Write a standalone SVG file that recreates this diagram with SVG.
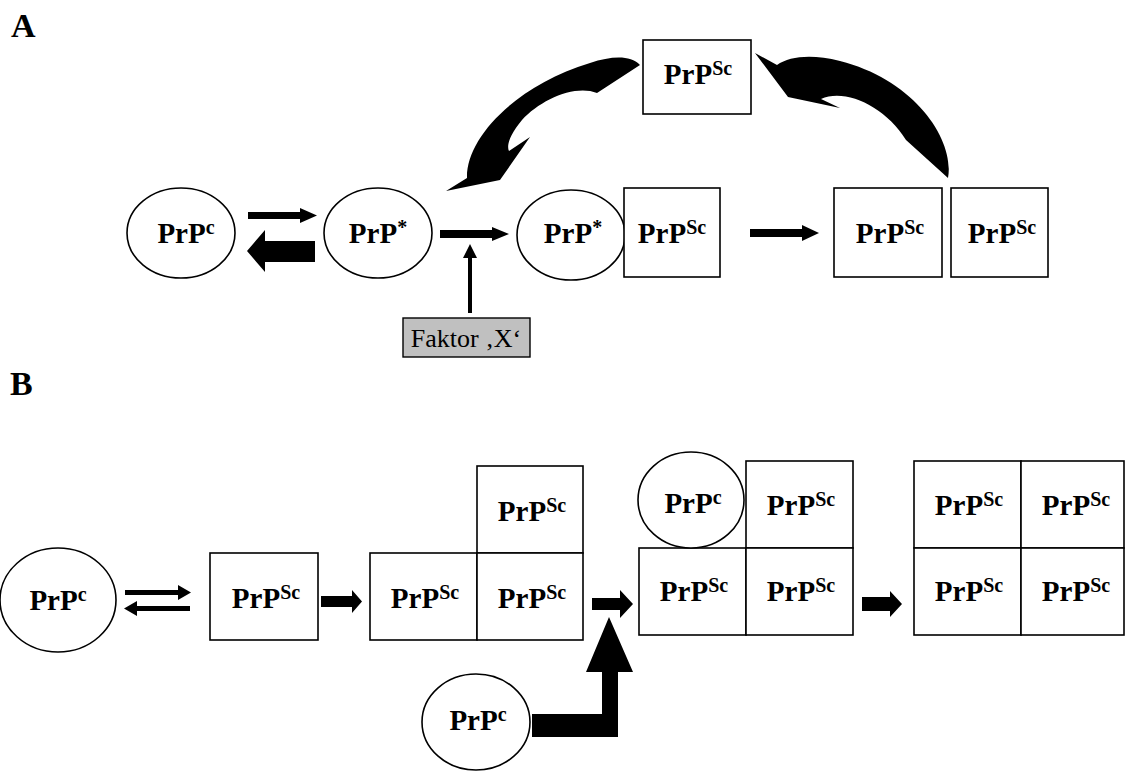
<svg xmlns="http://www.w3.org/2000/svg" width="1125" height="772" viewBox="0 0 1125 772">
  <style>
    .node { fill: #ffffff; stroke: #000000; stroke-width: 1.6; }
    .lbl { font-family: "Liberation Serif", "Times New Roman", serif; font-weight: bold; font-size: 29px; fill: #000; text-anchor: middle; }
    .sup { font-size: 20px; }
    .head { font-family: "Liberation Serif", "Times New Roman", serif; font-weight: bold; font-size: 34px; fill: #000; }
    .fx { font-family: "Liberation Serif", "Times New Roman", serif; font-size: 26px; fill: #000; text-anchor: middle; }
    .arrow { fill: #000000; stroke: none; }
  </style>

  <rect width="1125" height="772" fill="#ffffff"/>

  <!-- panel letters -->
  <text class="head" x="11" y="37">A</text>
  <text class="head" x="10" y="395">B</text>

  <!-- ===== Panel A ===== -->
  <g id="a-prpc">
    <ellipse class="node" cx="181" cy="233" rx="54" ry="45"/>
    <text class="lbl" x="186" y="243">PrP<tspan class="sup" dy="-9">c</tspan></text>
  </g>
  <g id="a-prpstar1">
    <ellipse class="node" cx="378" cy="233" rx="54" ry="45"/>
    <text class="lbl" x="378" y="243">PrP<tspan class="sup" dy="-9">*</tspan></text>
  </g>
  <g id="a-prpstar2">
    <ellipse class="node" cx="571" cy="235" rx="54" ry="45"/>
    <text class="lbl" x="573" y="243">PrP<tspan class="sup" dy="-9">*</tspan></text>
  </g>
  <g id="a-sc1">
    <rect class="node" x="624" y="188" width="96" height="89"/>
    <text class="lbl" x="672" y="243">PrP<tspan class="sup" dy="-9">Sc</tspan></text>
  </g>
  <g id="a-sc2">
    <rect class="node" x="834" y="188" width="108" height="89"/>
    <text class="lbl" x="890" y="243">PrP<tspan class="sup" dy="-9">Sc</tspan></text>
  </g>
  <g id="a-sc3">
    <rect class="node" x="951" y="188" width="97" height="89"/>
    <text class="lbl" x="1002" y="243">PrP<tspan class="sup" dy="-9">Sc</tspan></text>
  </g>
  <g id="a-sc-top">
    <rect class="node" x="643" y="40" width="108" height="74"/>
    <text class="lbl" x="698" y="84">PrP<tspan class="sup" dy="-9">Sc</tspan></text>
  </g>
  <g id="a-faktor">
    <rect x="403" y="318" width="127" height="39" fill="#c0c0c0" stroke="#000" stroke-width="1.4"/>
    <text class="fx" x="466" y="347">Faktor ‚X‘</text>
  </g>

  <!-- ===== Panel B ===== -->
  <g id="b-prpc">
    <ellipse class="node" cx="58" cy="600" rx="58" ry="52"/>
    <text class="lbl" x="58" y="610">PrP<tspan class="sup" dy="-9">c</tspan></text>
  </g>
  <g id="b-sc1">
    <rect class="node" x="210" y="553" width="108" height="87"/>
    <text class="lbl" x="266" y="608">PrP<tspan class="sup" dy="-9">Sc</tspan></text>
  </g>
  <g id="b-trimer">
    <rect class="node" x="477" y="466" width="106" height="87"/>
    <rect class="node" x="370" y="553" width="107" height="87"/>
    <rect class="node" x="477" y="553" width="106" height="87"/>
    <text class="lbl" x="532" y="521">PrP<tspan class="sup" dy="-9">Sc</tspan></text>
    <text class="lbl" x="425" y="608">PrP<tspan class="sup" dy="-9">Sc</tspan></text>
    <text class="lbl" x="532" y="608">PrP<tspan class="sup" dy="-9">Sc</tspan></text>
  </g>
  <g id="b-prpc-low">
    <ellipse class="node" cx="476" cy="722" rx="54" ry="48"/>
    <text class="lbl" x="478" y="730">PrP<tspan class="sup" dy="-9">c</tspan></text>
  </g>
  <g id="b-tetramer-forming">
    <rect class="node" x="746" y="461" width="107" height="87"/>
    <rect class="node" x="639" y="548" width="107" height="87"/>
    <rect class="node" x="746" y="548" width="107" height="87"/>
    <ellipse class="node" cx="691" cy="500" rx="53" ry="48"/>
    <text class="lbl" x="693" y="513">PrP<tspan class="sup" dy="-9">c</tspan></text>
    <text class="lbl" x="801" y="515">PrP<tspan class="sup" dy="-9">Sc</tspan></text>
    <text class="lbl" x="694" y="601">PrP<tspan class="sup" dy="-9">Sc</tspan></text>
    <text class="lbl" x="801" y="601">PrP<tspan class="sup" dy="-9">Sc</tspan></text>
  </g>
  <g id="b-tetramer">
    <rect class="node" x="914" y="461" width="107" height="87"/>
    <rect class="node" x="1021" y="461" width="103" height="87"/>
    <rect class="node" x="914" y="548" width="107" height="87"/>
    <rect class="node" x="1021" y="548" width="103" height="87"/>
    <text class="lbl" x="969" y="515">PrP<tspan class="sup" dy="-9">Sc</tspan></text>
    <text class="lbl" x="1076" y="515">PrP<tspan class="sup" dy="-9">Sc</tspan></text>
    <text class="lbl" x="969" y="601">PrP<tspan class="sup" dy="-9">Sc</tspan></text>
    <text class="lbl" x="1076" y="601">PrP<tspan class="sup" dy="-9">Sc</tspan></text>
  </g>

  <!-- ===== connectors ===== -->
  <g id="connectors" class="arrow">
    <!-- A: PrPc <-> PrP* equilibrium -->
    <polygon points="248,212 300,212 300,208 317,215.5 300,223 300,219 248,219"/>
    <polygon points="315,241 265,241 265,230 247,251 265,272 265,262 315,262"/>
    <!-- A: PrP* -> PrP*·PrPSc -->
    <polygon points="440,230 492,230 492,227 509,234 492,241 492,238 440,238"/>
    <!-- A: Faktor X -> reaction -->
    <polygon points="468,313 468,258 463,258 470,244 477,258 472,258 472,313"/>
    <!-- A: PrPSc -> dimer -->
    <polygon points="750,229 802,229 802,225 819,233 802,241 802,237 750,237"/>
    <!-- A: recruitment loop (top box to PrP*) -->
    <path d="M446,191 L467,178 C466,138 515,86 590,63 C612,56 630,55 640,65 L597,93 C575,84 540,100 522,120 C511,133 506,145 509,151 L530,137 L500,180 Z"/>
    <!-- A: dimer back to top box -->
    <path d="M755,53 L788,97 L840,108 L821,99 C845,88 885,106 906,140 L948,178 C955,140 915,80 840,61 C812,54 790,56 777,65 Z"/>

    <!-- B: PrPc <-> PrPSc -->
    <polygon points="125,590 178,590 178,585 191,592.5 178,600 178,595 125,595"/>
    <polygon points="190,606 137,606 137,601 124,608.5 137,616 137,611 190,611"/>
    <!-- B: block arrows -->
    <polygon points="321,596 352,596 352,590 362,601.5 352,613 352,607 321,607"/>
    <polygon points="592,598 620,598 620,590 633,604 620,618 620,610 592,610"/>
    <polygon points="862,597 890,597 890,591 902,604 890,617 890,611 862,611"/>
    <!-- B: incoming PrPc joins the trimer -->
    <polygon points="532,714 602,714 602,672 586,672 609,617 633,672 618,672 618,737 532,737"/>
  </g>
</svg>
